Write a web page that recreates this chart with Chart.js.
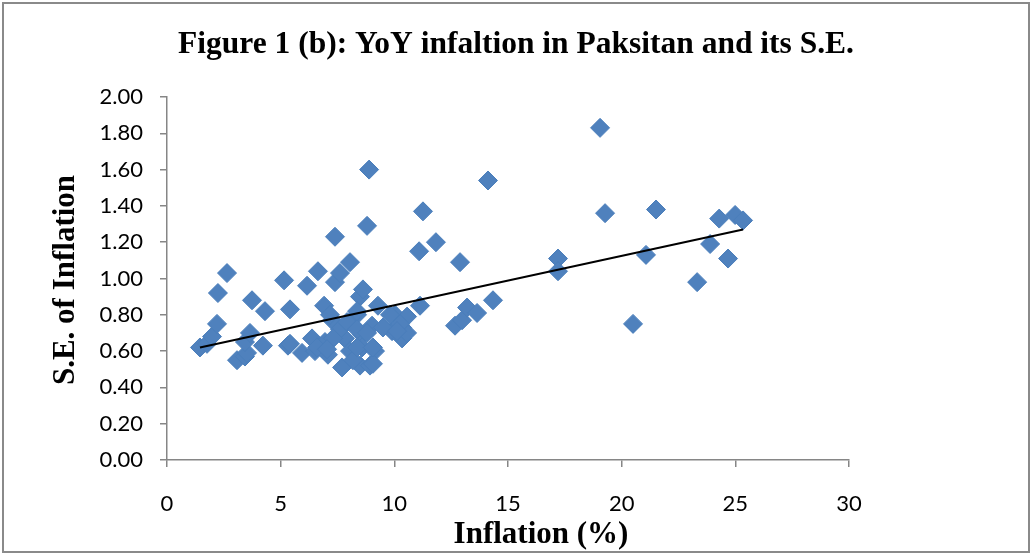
<!DOCTYPE html>
<html>
<head>
<meta charset="utf-8">
<script src="https://cdn.jsdelivr.net/npm/chart.js@4.4.1/dist/chart.umd.min.js"></script>
<style>
  html, body { margin: 0; padding: 0; background: #fff; }
  #wrap { width: 1032px; height: 556px; }
</style>
</head>
<body>
<div id="wrap"><canvas id="chart" width="1032" height="556"></canvas></div>
<script>
// ── Figure 1 (b) · YoY inflation vs its S.E. ────────────────────────────────

// ─ Data ──────────────────────────────────────────────────────────────────────
const inflation = [
  1.45, 1.76, 1.98, 2.20, 2.24, 2.64, 3.08, 3.43, 3.52, 3.43,
  3.65, 3.74, 4.31, 4.22, 5.15, 5.41, 5.32, 5.94, 6.16, 6.64,
  6.38, 6.51, 6.95, 7.08, 6.91, 7.39, 7.39, 7.61, 7.70, 7.26,
  7.83, 8.05, 8.05, 8.36, 8.49, 8.62, 8.58, 8.58, 8.49, 8.93,
  9.15, 9.02, 9.28, 8.89, 8.80, 9.90, 10.03, 10.34, 10.34, 10.56,
  10.56, 11.13, 11.09, 11.26, 11.83, 12.89, 12.67, 12.98, 13.20, 13.64,
  14.34, 14.12, 17.20, 17.20, 19.05, 19.27, 20.50, 21.07, 21.51, 23.32,
  23.89, 24.29, 24.68, 24.99, 25.34,
  7.61, 7.92, 9.50, 10.25, 10.12, 7.30, 6.60, 7.04, 8.18, 9.06,
  8.36, 8.80, 8.36, 9.06, 7.17, 8.36, 9.81, 5.41
];
const seInflation = [
  0.62, 0.64, 0.68, 0.75, 0.92, 1.03, 0.55, 0.57, 0.59, 0.65,
  0.70, 0.88, 0.82, 0.63, 0.99, 0.83, 0.63, 0.59, 0.96, 1.04,
  0.67, 0.60, 0.65, 0.58, 0.85, 1.23, 0.98, 1.03, 0.51, 0.77,
  0.67, 0.60, 1.09, 0.80, 0.90, 0.94, 0.69, 0.62, 0.52, 0.52,
  0.60, 0.74, 0.85, 1.60, 1.29, 0.71, 0.80, 0.73, 0.67, 0.79,
  0.70, 0.85, 1.15, 1.37, 1.20, 1.09, 0.74, 0.77, 0.84, 0.81,
  0.88, 1.54, 1.11, 1.04, 1.83, 1.36, 0.75, 1.13, 1.38, 0.98,
  1.19, 1.33, 1.11, 1.35, 1.32,
  0.72, 0.76, 0.73, 0.75, 0.71, 0.67, 0.62, 0.61, 0.55, 0.53,
  0.72, 0.70, 0.62, 0.62, 0.80, 0.82, 0.80, 0.64
];

// linear trend line end points
const trendX = [1.45, 25.34];
const trendY = [0.62, 1.27];

// axis ticks
const xTicks = [0, 5, 10, 15, 20, 25, 30];
const yTicks = [0, 0.2, 0.4, 0.6, 0.8, 1.0, 1.2, 1.4, 1.6, 1.8, 2.0];

const TITLE   = 'Figure 1 (b): YoY infaltion in Paksitan and its S.E.';
const X_TITLE = 'Inflation (%)';
const Y_TITLE = 'S.E. of Inflation';

// ─ Colours ───────────────────────────────────────────────────────────────────
const PT_FILL   = '#4F81BD';
const PT_BORDER = '#4A7EBB';
const AXIS_GREY = '#868686';

// ─ Text + frame plugin ───────────────────────────────────────────────────────
const textPlugin = {
  id: 'texts',
  afterDraw(chart) {
    const ctx = chart.ctx;
    ctx.save();
    ctx.fillStyle = '#000';
    ctx.textAlign = 'center';
    ctx.textBaseline = 'alphabetic';

    ctx.font = 'bold 31.5px "Liberation Serif", "Times New Roman", serif';
    ctx.fillText(TITLE, 516, 53);

    ctx.font = 'bold 31px "Liberation Serif", "Times New Roman", serif';
    ctx.fillText(X_TITLE, 541, 543);

    ctx.translate(74, 280);
    ctx.rotate(-Math.PI / 2);
    ctx.fillText(Y_TITLE, 0, 0);
    ctx.restore();

    ctx.save();
    ctx.strokeStyle = '#8a8a8a';
    ctx.lineWidth = 2;
    ctx.strokeRect(3, 3, 1026, 549);
    ctx.restore();
  }
};

// ─ Chart ─────────────────────────────────────────────────────────────────────
const points = inflation.map((x, i) => ({ x, y: seInflation[i] }));
const trend  = trendX.map((x, i) => ({ x, y: trendY[i] }));

const tickFont = { family: 'Lato, "Open Sans", sans-serif', size: 22 };

new Chart(document.getElementById('chart').getContext('2d'), {
  type: 'scatter',
  data: {
    datasets: [
      {
        label: 'Trend',
        data: trend,
        showLine: true,
        borderColor: '#000',
        borderWidth: 2,
        pointRadius: 0,
        fill: false,
      },
      {
        label: 'S.E.',
        data: points,
        pointStyle: 'rectRot',
        pointRadius: 9.5,
        backgroundColor: PT_FILL,
        borderColor: PT_BORDER,
        borderWidth: 1,
      }
    ]
  },
  options: {
    responsive: false,
    animation: false,
    clip: false,
    layout: { padding: { top: 97, right: 183, left: 0, bottom: 0 } },
    plugins: {
      legend: { display: false },
      tooltip: { enabled: false },
      title: { display: false }
    },
    scales: {
      x: {
        type: 'linear',
        min: 0, max: 30,
        afterBuildTicks: s => { s.ticks = xTicks.map(v => ({ value: v })); },
        afterFit: s => { s.height = 96; },
        ticks: { color: '#000', font: tickFont, padding: 24, maxRotation: 0 },
        grid: { drawOnChartArea: false, drawTicks: true, tickLength: 7, color: AXIS_GREY, lineWidth: 1.5 },
        border: { color: AXIS_GREY, width: 1.5 }
      },
      y: {
        type: 'linear',
        min: 0, max: 2,
        afterBuildTicks: s => { s.ticks = yTicks.map(v => ({ value: v })); },
        afterFit: s => { s.width = 167; },
        ticks: { color: '#000', font: tickFont, padding: 17, callback: v => Number(v).toFixed(2) },
        grid: { drawOnChartArea: false, drawTicks: true, tickLength: 7, color: AXIS_GREY, lineWidth: 1.5 },
        border: { color: AXIS_GREY, width: 1.5 }
      }
    }
  },
  plugins: [textPlugin]
});
</script>
</body>
</html>
